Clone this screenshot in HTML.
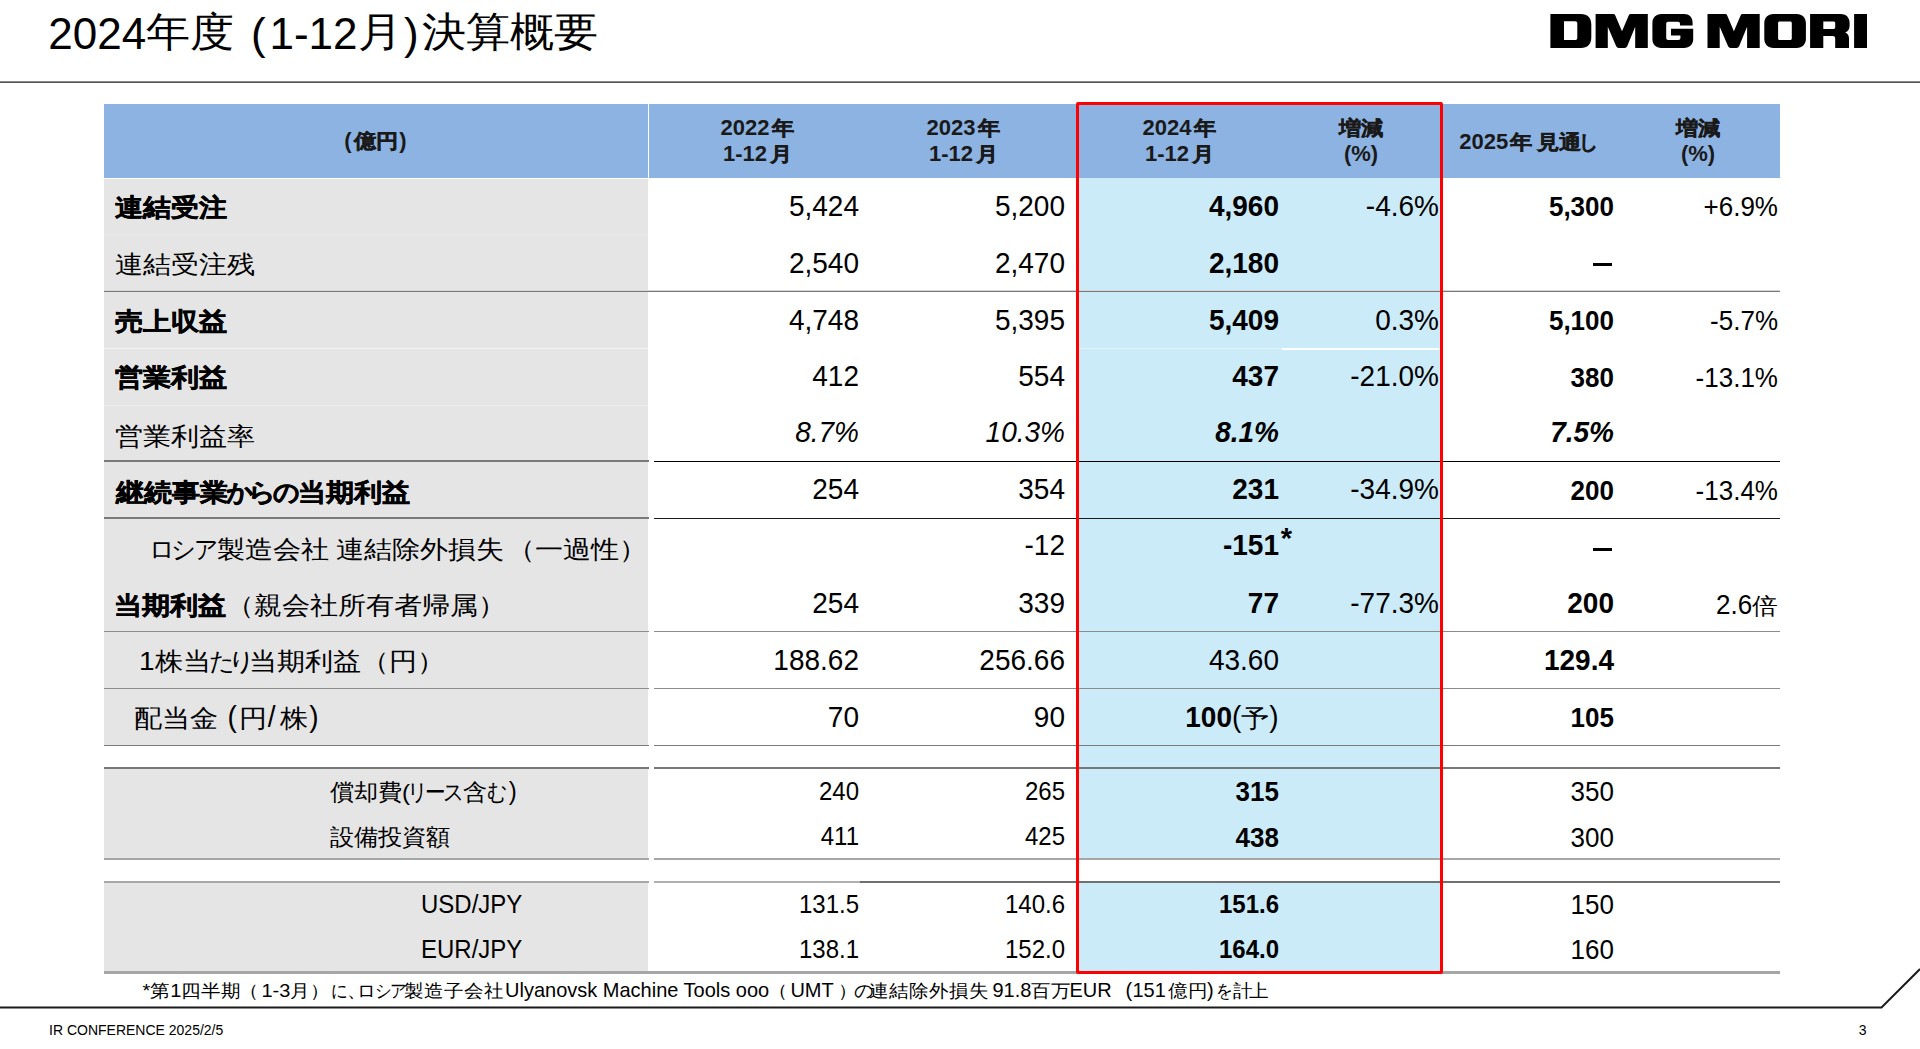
<!DOCTYPE html><html lang="ja"><head><meta charset="utf-8"><style>
html,body{margin:0;padding:0;background:#fff}
body{width:1920px;height:1049px;position:relative;overflow:hidden;font-family:"Liberation Sans", sans-serif;color:#000}
.abs{position:absolute}
.t{position:absolute;white-space:nowrap;line-height:1}
.b{font-weight:bold}
.h{font-weight:bold;color:#1a1a1a}
.k.b,.k.h,.k b{-webkit-text-stroke:0.5px currentColor}

</style></head><body>
<div class="t " style="left:48.30px;top:11.95px;font-size:44.00px;">2024</div>
<div class="t  k" style="left:146.20px;top:9.45px;font-size:44.00px;transform:scale(1.000,0.930);transform-origin:0 42.97px;">年度</div>
<div class="t " style="left:251.00px;top:11.95px;font-size:44.00px;">(</div>
<div class="t " style="left:269.50px;top:11.95px;font-size:44.00px;">1-12</div>
<div class="t  k" style="left:357.60px;top:9.45px;font-size:44.00px;transform:scale(1.000,0.930);transform-origin:0 42.97px;">月</div>
<div class="t " style="left:404.10px;top:11.95px;font-size:44.00px;">)</div>
<div class="t  k" style="left:422.00px;top:9.45px;font-size:44.00px;transform:scale(1.000,0.930);transform-origin:0 42.97px;">決算概要</div>
<svg class="abs" style="left:1550px;top:14px" width="320" height="36" viewBox="0 0 320 36">
<path fill="#000" fill-rule="evenodd" d="M0.4,0 H31 C37.5,0 41.3,4 41.3,10.5 V23.5 C41.3,30 37.5,34 31,34 H0.4 Z M14,7.2 H25 C26.5,7.2 27.3,8 27.3,9.5 V23.8 C27.3,25.3 26.5,26.1 25,26.1 H14 Z"/>
<path id="m1" fill="#000" d="M45.6,0 H63.3 Q64.7,0 65.3,1.4 L72,17.2 L78.7,1.4 Q79.3,0 80.7,0 H97.8 V34 H85.2 V12.8 L77.2,32.3 Q76.5,34 74.6,34 H68.8 Q66.9,34 66.2,32.3 L57.8,12.8 V34 H45.6 Z"/>
<path fill="#000" d="M111.4,0 H134 C139.2,0 142.6,3.2 142.6,8.4 V11.4 H130 V9.8 C130,8.5 129.3,7.8 128,7.8 H118.2 C117,7.8 116.2,8.6 116.2,9.8 V24 C116.2,25.2 117,26 118.2,26 H128.4 C129.6,26 130.4,25.2 130.4,24 V21.6 H121 V14.8 H143.2 V25 C143.2,30.5 139.5,34 134,34 H111.4 C106,34 102.4,30.5 102.4,25 V9 C102.4,3.5 106,0 111.4,0 Z"/>
<use href="#m1" x="111.9"/>
<path fill="#000" fill-rule="evenodd" d="M223.5,0 H246.7 C252.2,0 255.9,3.7 255.9,9.2 V24.8 C255.9,30.3 252.2,34 246.7,34 H223.5 C218,34 214.3,30.3 214.3,24.8 V9.2 C214.3,3.7 218,0 223.5,0 Z M229.6,7.4 H240.3 C241.2,7.4 241.8,8 241.8,8.9 V24.4 C241.8,25.3 241.2,25.9 240.3,25.9 H229.6 C228.7,25.9 228.1,25.3 228.1,24.4 V8.9 C228.1,8 228.7,7.4 229.6,7.4 Z"/>
<path fill="#000" fill-rule="evenodd" d="M260.1,0 H290.4 C296,0 299.6,3.4 299.6,8.8 V11.8 C299.6,15.2 298,17.4 295.2,18.6 C297.8,19.6 299,21.6 299,24.6 V34 H285.2 V24.6 C285.2,22.8 284.4,22 282.6,22 H273.3 V34 H260.1 Z M273.3,7.4 H283.6 C284.6,7.4 285.2,8 285.2,9.1 V13.2 C285.2,14.3 284.6,14.9 283.6,14.9 H273.3 Z"/>
<path fill="#000" d="M304.1,0 H317 V34 H304.1 Z"/>
</svg>
<div class="abs" style="left:0;top:81px;width:1920px;height:1px;background:#8a8a8a"></div>
<div class="abs" style="left:0;top:82px;width:1920px;height:1px;background:#555"></div>
<div class="abs" style="left:104px;top:104px;width:1676px;height:74px;background:#8DB3E2"></div>
<div class="abs" style="left:648px;top:104px;width:1px;height:74px;background:#fff"></div>
<div class="abs" style="left:104px;top:179px;width:544px;height:566px;background:#E5E5E5"></div>
<div class="abs" style="left:104px;top:769px;width:544px;height:89px;background:#E5E5E5"></div>
<div class="abs" style="left:104px;top:883px;width:544px;height:88px;background:#E5E5E5"></div>
<div class="abs" style="left:1079px;top:178px;width:361px;height:681px;background:#CCEBF8"></div>
<div class="abs" style="left:1079px;top:882px;width:361px;height:89px;background:#CCEBF8"></div>
<div class="abs" style="left:104px;top:290px;width:1676px;height:1px;background:#d4d4d4"></div>
<div class="abs" style="left:104px;top:291px;width:1676px;height:1px;background:#7a7a7a"></div>
<div class="abs" style="left:104px;top:460px;width:545px;height:2px;background:#7a7a7a"></div>
<div class="abs" style="left:654px;top:461px;width:1126px;height:1px;background:#000"></div>
<div class="abs" style="left:104px;top:517px;width:545px;height:2px;background:#7a7a7a"></div>
<div class="abs" style="left:654px;top:518px;width:1126px;height:1px;background:#1a1a1a"></div>
<div class="abs" style="left:104px;top:631px;width:545px;height:1px;background:#8c8c8c"></div>
<div class="abs" style="left:654px;top:631px;width:1126px;height:1px;background:#8c8c8c"></div>
<div class="abs" style="left:104px;top:688px;width:545px;height:1px;background:#8c8c8c"></div>
<div class="abs" style="left:654px;top:688px;width:1126px;height:1px;background:#8c8c8c"></div>
<div class="abs" style="left:104px;top:745px;width:545px;height:1px;background:#7a7a7a"></div>
<div class="abs" style="left:654px;top:745px;width:1126px;height:1px;background:#7a7a7a"></div>
<div class="abs" style="left:104px;top:767px;width:545px;height:2px;background:#777"></div>
<div class="abs" style="left:654px;top:767px;width:1126px;height:2px;background:#777"></div>
<div class="abs" style="left:104px;top:858px;width:545px;height:2px;background:#a6a6a6"></div>
<div class="abs" style="left:654px;top:858px;width:1126px;height:2px;background:#a6a6a6"></div>
<div class="abs" style="left:104px;top:881px;width:545px;height:2px;background:#a8a8a8"></div>
<div class="abs" style="left:654px;top:881px;width:206px;height:2px;background:#b0b0b0"></div>
<div class="abs" style="left:860px;top:881px;width:920px;height:2px;background:#707070"></div>
<div class="abs" style="left:104px;top:971px;width:1676px;height:3px;background:#a6a6a6"></div>
<div class="abs" style="left:1282px;top:348px;width:158px;height:2px;background:#fff"></div>
<div class="abs" style="left:1079px;top:348px;width:203px;height:1px;background:#e2f3fb"></div>
<div class="abs" style="left:104px;top:348px;width:544px;height:1px;background:#f3f3f3"></div>
<div class="abs" style="left:104px;top:405px;width:544px;height:1px;background:#ececec"></div>
<div class="abs" style="left:104px;top:234px;width:544px;height:1px;background:#eaeaea"></div>
<div class="abs" style="left:1076px;top:102px;width:361px;height:866px;border:3px solid #FF0000;border-radius:2px"></div>
<div class="t h" style="left:344.30px;top:129.98px;font-size:22.00px;transform:scale(1.000,1.040);transform-origin:0 18.62px;">(</div>
<div class="t h k" style="left:353.50px;top:129.98px;font-size:22.00px;transform:scale(1.000,0.900);transform-origin:0 21.48px;">億円</div>
<div class="t h" style="left:399.30px;top:129.98px;font-size:22.00px;transform:scale(1.000,1.040);transform-origin:0 18.62px;">)</div>
<div class="t h" style="left:720.54px;top:117.08px;font-size:22.00px;transform:scale(1.000,1.040);transform-origin:0 18.62px;">2022</div>
<div class="t h k" style="left:771.96px;top:117.08px;font-size:22.00px;transform:scale(1.000,0.900);transform-origin:0 21.48px;">年</div>
<div class="t h" style="left:722.99px;top:143.28px;font-size:22.00px;transform:scale(1.000,1.040);transform-origin:0 18.62px;">1-12</div>
<div class="t h k" style="left:769.51px;top:143.28px;font-size:22.00px;transform:scale(1.000,0.900);transform-origin:0 21.48px;">月</div>
<div class="t h" style="left:926.54px;top:117.08px;font-size:22.00px;transform:scale(1.000,1.040);transform-origin:0 18.62px;">2023</div>
<div class="t h k" style="left:977.96px;top:117.08px;font-size:22.00px;transform:scale(1.000,0.900);transform-origin:0 21.48px;">年</div>
<div class="t h" style="left:928.99px;top:143.28px;font-size:22.00px;transform:scale(1.000,1.040);transform-origin:0 18.62px;">1-12</div>
<div class="t h k" style="left:975.51px;top:143.28px;font-size:22.00px;transform:scale(1.000,0.900);transform-origin:0 21.48px;">月</div>
<div class="t h" style="left:1142.54px;top:117.08px;font-size:22.00px;transform:scale(1.000,1.040);transform-origin:0 18.62px;">2024</div>
<div class="t h k" style="left:1193.96px;top:117.08px;font-size:22.00px;transform:scale(1.000,0.900);transform-origin:0 21.48px;">年</div>
<div class="t h" style="left:1144.99px;top:143.28px;font-size:22.00px;transform:scale(1.000,1.040);transform-origin:0 18.62px;">1-12</div>
<div class="t h k" style="left:1191.51px;top:143.28px;font-size:22.00px;transform:scale(1.000,0.900);transform-origin:0 21.48px;">月</div>
<div class="t h k" style="left:1161.00px;width:400px;text-align:center;top:117.08px;font-size:22.00px;transform:scale(1.000,0.900);transform-origin:50% 21.48px;">増減</div>
<div class="t h" style="left:1161.00px;width:400px;text-align:center;top:143.28px;font-size:22.00px;transform:scale(1.000,1.040);transform-origin:50% 18.62px;">(%)</div>
<div class="t h k" style="left:1498.00px;width:400px;text-align:center;top:117.08px;font-size:22.00px;transform:scale(1.000,0.900);transform-origin:50% 21.48px;">増減</div>
<div class="t h" style="left:1498.00px;width:400px;text-align:center;top:143.28px;font-size:22.00px;transform:scale(1.000,1.040);transform-origin:50% 18.62px;">(%)</div>
<div class="t h" style="left:1459.30px;top:130.78px;font-size:22.00px;transform:scale(1.000,1.040);transform-origin:0 18.62px;">2025</div>
<div class="t h k" style="left:1510.00px;top:130.78px;font-size:22.00px;transform:scale(1.000,0.900);transform-origin:0 21.48px;">年</div>
<div class="t h k" style="left:1537.00px;top:130.78px;font-size:22.00px;transform:scale(1.000,0.900);transform-origin:0 21.48px;">見通</div>
<div class="t h k" style="left:1389.20px;width:400px;text-align:center;top:130.78px;font-size:22.00px;transform:scale(0.850,0.900);transform-origin:50% 21.48px;">し</div>
<div class="t b k" style="left:115.00px;top:192.70px;font-size:28.00px;transform:scale(1.000,0.890);transform-origin:0 27.34px;">連結受注</div>
<div class="t " style="left:459.00px;width:400px;text-align:right;top:192.70px;font-size:28.00px;transform:scale(1.000,1.040);transform-origin:100% 23.70px;">5,424</div>
<div class="t " style="left:665.00px;width:400px;text-align:right;top:192.70px;font-size:28.00px;transform:scale(1.000,1.040);transform-origin:100% 23.70px;">5,200</div>
<div class="t " style="left:879.00px;width:400px;text-align:right;top:192.70px;font-size:28.00px;transform:scale(1.000,1.040);transform-origin:100% 23.70px;"><b>4,960</b></div>
<div class="t " style="left:1039.00px;width:400px;text-align:right;top:192.70px;font-size:28.00px;transform:scale(1.000,1.040);transform-origin:100% 23.70px;">-4.6%</div>
<div class="t " style="left:1214.00px;width:400px;text-align:right;top:194.39px;font-size:26.00px;transform:scale(1.000,1.040);transform-origin:100% 22.01px;"><b>5,300</b></div>
<div class="t " style="left:1378.00px;width:400px;text-align:right;top:194.39px;font-size:26.00px;transform:scale(1.000,1.040);transform-origin:100% 22.01px;">+6.9%</div>
<div class="t  k" style="left:115.00px;top:249.60px;font-size:28.00px;transform:scale(1.000,0.890);transform-origin:0 27.34px;">連結受注残</div>
<div class="t " style="left:459.00px;width:400px;text-align:right;top:249.60px;font-size:28.00px;transform:scale(1.000,1.040);transform-origin:100% 23.70px;">2,540</div>
<div class="t " style="left:665.00px;width:400px;text-align:right;top:249.60px;font-size:28.00px;transform:scale(1.000,1.040);transform-origin:100% 23.70px;">2,470</div>
<div class="t " style="left:879.00px;width:400px;text-align:right;top:249.60px;font-size:28.00px;transform:scale(1.000,1.040);transform-origin:100% 23.70px;"><b>2,180</b></div>
<div class="t b k" style="left:115.00px;top:306.50px;font-size:28.00px;transform:scale(1.000,0.890);transform-origin:0 27.34px;">売上収益</div>
<div class="t " style="left:459.00px;width:400px;text-align:right;top:306.50px;font-size:28.00px;transform:scale(1.000,1.040);transform-origin:100% 23.70px;">4,748</div>
<div class="t " style="left:665.00px;width:400px;text-align:right;top:306.50px;font-size:28.00px;transform:scale(1.000,1.040);transform-origin:100% 23.70px;">5,395</div>
<div class="t " style="left:879.00px;width:400px;text-align:right;top:306.50px;font-size:28.00px;transform:scale(1.000,1.040);transform-origin:100% 23.70px;"><b>5,409</b></div>
<div class="t " style="left:1039.00px;width:400px;text-align:right;top:306.50px;font-size:28.00px;transform:scale(1.000,1.040);transform-origin:100% 23.70px;">0.3%</div>
<div class="t " style="left:1214.00px;width:400px;text-align:right;top:308.19px;font-size:26.00px;transform:scale(1.000,1.040);transform-origin:100% 22.01px;"><b>5,100</b></div>
<div class="t " style="left:1378.00px;width:400px;text-align:right;top:308.19px;font-size:26.00px;transform:scale(1.000,1.040);transform-origin:100% 22.01px;">-5.7%</div>
<div class="t b k" style="left:115.00px;top:363.30px;font-size:28.00px;transform:scale(1.000,0.890);transform-origin:0 27.34px;">営業利益</div>
<div class="t " style="left:459.00px;width:400px;text-align:right;top:363.30px;font-size:28.00px;transform:scale(1.000,1.040);transform-origin:100% 23.70px;">412</div>
<div class="t " style="left:665.00px;width:400px;text-align:right;top:363.30px;font-size:28.00px;transform:scale(1.000,1.040);transform-origin:100% 23.70px;">554</div>
<div class="t " style="left:879.00px;width:400px;text-align:right;top:363.30px;font-size:28.00px;transform:scale(1.000,1.040);transform-origin:100% 23.70px;"><b>437</b></div>
<div class="t " style="left:1039.00px;width:400px;text-align:right;top:363.30px;font-size:28.00px;transform:scale(1.000,1.040);transform-origin:100% 23.70px;">-21.0%</div>
<div class="t " style="left:1214.00px;width:400px;text-align:right;top:364.99px;font-size:26.00px;transform:scale(1.000,1.040);transform-origin:100% 22.01px;"><b>380</b></div>
<div class="t " style="left:1378.00px;width:400px;text-align:right;top:364.99px;font-size:26.00px;transform:scale(1.000,1.040);transform-origin:100% 22.01px;">-13.1%</div>
<div class="t  k" style="left:115.00px;top:421.50px;font-size:28.00px;transform:scale(1.000,0.890);transform-origin:0 27.34px;">営業利益率</div>
<div class="t " style="left:459.00px;width:400px;text-align:right;top:419.00px;font-size:28.00px;transform:scale(1.000,1.040);transform-origin:100% 23.70px;"><i>8.7%</i></div>
<div class="t " style="left:665.00px;width:400px;text-align:right;top:419.00px;font-size:28.00px;transform:scale(1.000,1.040);transform-origin:100% 23.70px;"><i>10.3%</i></div>
<div class="t " style="left:879.00px;width:400px;text-align:right;top:419.00px;font-size:28.00px;transform:scale(1.000,1.040);transform-origin:100% 23.70px;"><b><i>8.1%</i></b></div>
<div class="t " style="left:1214.00px;width:400px;text-align:right;top:419.00px;font-size:28.00px;transform:scale(1.000,1.040);transform-origin:100% 23.70px;"><b><i>7.5%</i></b></div>
<div class="t b k" style="left:115.50px;top:478.00px;font-size:28.00px;transform:scale(1.000,0.890);transform-origin:0 27.34px;">継続事業</div>
<div class="t b k" style="left:39.70px;width:400px;text-align:center;top:478.00px;font-size:28.00px;transform:scale(0.950,0.890);transform-origin:50% 27.34px;">か</div>
<div class="t b k" style="left:62.20px;width:400px;text-align:center;top:478.00px;font-size:28.00px;transform:scale(0.970,0.890);transform-origin:50% 27.34px;">ら</div>
<div class="t b k" style="left:85.60px;width:400px;text-align:center;top:478.00px;font-size:28.00px;transform:scale(0.930,0.890);transform-origin:50% 27.34px;">の</div>
<div class="t b k" style="left:298.00px;top:478.00px;font-size:28.00px;transform:scale(1.000,0.890);transform-origin:0 27.34px;">当期利益</div>
<div class="t " style="left:459.00px;width:400px;text-align:right;top:476.20px;font-size:28.00px;transform:scale(1.000,1.040);transform-origin:100% 23.70px;">254</div>
<div class="t " style="left:665.00px;width:400px;text-align:right;top:476.20px;font-size:28.00px;transform:scale(1.000,1.040);transform-origin:100% 23.70px;">354</div>
<div class="t " style="left:879.00px;width:400px;text-align:right;top:476.20px;font-size:28.00px;transform:scale(1.000,1.040);transform-origin:100% 23.70px;"><b>231</b></div>
<div class="t " style="left:1039.00px;width:400px;text-align:right;top:476.20px;font-size:28.00px;transform:scale(1.000,1.040);transform-origin:100% 23.70px;">-34.9%</div>
<div class="t " style="left:1214.00px;width:400px;text-align:right;top:477.89px;font-size:26.00px;transform:scale(1.000,1.040);transform-origin:100% 22.01px;"><b>200</b></div>
<div class="t " style="left:1378.00px;width:400px;text-align:right;top:477.89px;font-size:26.00px;transform:scale(1.000,1.040);transform-origin:100% 22.01px;">-13.4%</div>
<div class="t  k" style="left:-38.20px;width:400px;text-align:center;top:535.30px;font-size:28.00px;transform:scale(0.900,0.890);transform-origin:50% 27.34px;">ロ</div>
<div class="t  k" style="left:-16.00px;width:400px;text-align:center;top:535.30px;font-size:28.00px;transform:scale(0.870,0.890);transform-origin:50% 27.34px;">シ</div>
<div class="t  k" style="left:6.40px;width:400px;text-align:center;top:535.30px;font-size:28.00px;transform:scale(0.850,0.890);transform-origin:50% 27.34px;">ア</div>
<div class="t  k" style="left:217.00px;top:535.30px;font-size:28.00px;transform:scale(1.000,0.890);transform-origin:0 27.34px;">製造会社</div>
<div class="t  k" style="left:336.10px;top:535.30px;font-size:28.00px;transform:scale(1.000,0.890);transform-origin:0 27.34px;">連結除外損失</div>
<div class="t  k" style="left:506.70px;top:535.30px;font-size:28.00px;transform:scale(1.000,0.890);transform-origin:0 27.34px;">（一過性）</div>
<div class="t " style="left:665.00px;width:400px;text-align:right;top:532.30px;font-size:28.00px;transform:scale(1.000,1.040);transform-origin:100% 23.70px;">-12</div>
<div class="t " style="left:879.00px;width:400px;text-align:right;top:532.30px;font-size:28.00px;transform:scale(1.000,1.040);transform-origin:100% 23.70px;"><b>-151</b></div>
<div class="t  k" style="left:114.00px;top:591.10px;font-size:28.00px;transform:scale(1.000,0.890);transform-origin:0 27.34px;"><b>当期利益</b>（親会社所有者帰属）</div>
<div class="t " style="left:459.00px;width:400px;text-align:right;top:590.30px;font-size:28.00px;transform:scale(1.000,1.040);transform-origin:100% 23.70px;">254</div>
<div class="t " style="left:665.00px;width:400px;text-align:right;top:590.30px;font-size:28.00px;transform:scale(1.000,1.040);transform-origin:100% 23.70px;">339</div>
<div class="t " style="left:879.00px;width:400px;text-align:right;top:590.30px;font-size:28.00px;transform:scale(1.000,1.040);transform-origin:100% 23.70px;"><b>77</b></div>
<div class="t " style="left:1039.00px;width:400px;text-align:right;top:590.30px;font-size:28.00px;transform:scale(1.000,1.040);transform-origin:100% 23.70px;">-77.3%</div>
<div class="t " style="left:1214.00px;width:400px;text-align:right;top:590.30px;font-size:28.00px;transform:scale(1.000,1.040);transform-origin:100% 23.70px;"><b>200</b></div>
<div class="t " style="left:1716.00px;top:591.99px;font-size:26.00px;transform:scale(1.000,1.040);transform-origin:0 22.01px;">2.6</div>
<div class="t  k" style="left:1378.00px;width:400px;text-align:right;top:591.99px;font-size:26.00px;transform:scale(1.000,0.890);transform-origin:100% 25.39px;">倍</div>
<div class="t  k" style="left:139.00px;top:647.00px;font-size:28.00px;transform:scale(1.000,0.890);transform-origin:0 27.34px;">1株当</div>
<div class="t  k" style="left:21.70px;width:400px;text-align:center;top:647.00px;font-size:28.00px;transform:scale(0.900,0.890);transform-origin:50% 27.34px;">た</div>
<div class="t  k" style="left:42.10px;width:400px;text-align:center;top:647.00px;font-size:28.00px;transform:scale(0.950,0.890);transform-origin:50% 27.34px;">り</div>
<div class="t  k" style="left:249.10px;top:647.00px;font-size:28.00px;transform:scale(1.000,0.890);transform-origin:0 27.34px;">当期利益（円）</div>
<div class="t " style="left:459.00px;width:400px;text-align:right;top:647.00px;font-size:28.00px;transform:scale(1.000,1.040);transform-origin:100% 23.70px;">188.62</div>
<div class="t " style="left:665.00px;width:400px;text-align:right;top:647.00px;font-size:28.00px;transform:scale(1.000,1.040);transform-origin:100% 23.70px;">256.66</div>
<div class="t " style="left:879.00px;width:400px;text-align:right;top:647.00px;font-size:28.00px;transform:scale(1.000,1.040);transform-origin:100% 23.70px;">43.60</div>
<div class="t " style="left:1214.00px;width:400px;text-align:right;top:647.00px;font-size:28.00px;transform:scale(1.000,1.040);transform-origin:100% 23.70px;"><b>129.4</b></div>
<div class="t  k" style="left:134.00px;top:703.60px;font-size:28.00px;transform:scale(1.000,0.890);transform-origin:0 27.34px;">配当金</div>
<div class="t " style="left:227.50px;top:703.60px;font-size:28.00px;transform:scale(1.000,1.040);transform-origin:0 23.70px;">(</div>
<div class="t  k" style="left:53.30px;width:400px;text-align:center;top:703.60px;font-size:28.00px;transform:scale(1.000,0.890);transform-origin:50% 27.34px;">円</div>
<div class="t " style="left:71.60px;width:400px;text-align:center;top:703.60px;font-size:28.00px;transform:scale(1.000,1.040);transform-origin:50% 23.70px;">/</div>
<div class="t  k" style="left:94.10px;width:400px;text-align:center;top:703.60px;font-size:28.00px;transform:scale(1.000,0.890);transform-origin:50% 27.34px;">株</div>
<div class="t " style="left:309.30px;top:703.60px;font-size:28.00px;transform:scale(1.000,1.040);transform-origin:0 23.70px;">)</div>
<div class="t " style="left:459.00px;width:400px;text-align:right;top:703.60px;font-size:28.00px;transform:scale(1.000,1.040);transform-origin:100% 23.70px;">70</div>
<div class="t " style="left:665.00px;width:400px;text-align:right;top:703.60px;font-size:28.00px;transform:scale(1.000,1.040);transform-origin:100% 23.70px;">90</div>
<div class="t " style="left:1214.00px;width:400px;text-align:right;top:705.29px;font-size:26.00px;transform:scale(1.000,1.040);transform-origin:100% 22.01px;"><b>105</b></div>
<div class="t " style="left:832.00px;width:400px;text-align:right;top:703.60px;font-size:28.00px;transform:scale(1.000,1.040);transform-origin:100% 23.70px;"><b>100</b></div>
<div class="t " style="left:1232.00px;top:703.60px;font-size:28.00px;transform:scale(1.000,1.040);transform-origin:0 23.70px;">(</div>
<div class="t  k" style="left:1241.30px;top:703.60px;font-size:28.00px;transform:scale(1.000,0.890);transform-origin:0 27.34px;">予</div>
<div class="t " style="left:1269.30px;top:703.60px;font-size:28.00px;transform:scale(1.000,1.040);transform-origin:0 23.70px;">)</div>
<div class="abs" style="left:1593px;top:263px;width:19px;height:3px;background:#000"></div>
<div class="abs" style="left:1593px;top:548px;width:19px;height:3px;background:#000"></div>
<div class="t b" style="left:1280.70px;top:523.85px;font-size:29.00px;">*</div>
<div class="t  k" style="left:330.00px;top:780.18px;font-size:24.00px;transform:scale(1.000,0.950);transform-origin:0 23.44px;">償却費(</div>
<div class="t  k" style="left:218.20px;width:400px;text-align:center;top:780.18px;font-size:24.00px;transform:scale(0.850,0.950);transform-origin:50% 23.44px;">リ</div>
<div class="t  k" style="left:234.70px;width:400px;text-align:center;top:780.18px;font-size:24.00px;transform:scale(0.850,0.950);transform-origin:50% 23.44px;">ー</div>
<div class="t  k" style="left:254.00px;width:400px;text-align:center;top:780.18px;font-size:24.00px;transform:scale(0.850,0.950);transform-origin:50% 23.44px;">ス</div>
<div class="t  k" style="left:275.00px;width:400px;text-align:center;top:780.18px;font-size:24.00px;transform:scale(1.000,0.950);transform-origin:50% 23.44px;">含</div>
<div class="t  k" style="left:296.90px;width:400px;text-align:center;top:780.18px;font-size:24.00px;transform:scale(0.820,0.950);transform-origin:50% 23.44px;">む</div>
<div class="t " style="left:508.80px;top:780.18px;font-size:24.00px;transform:scale(1.000,1.040);transform-origin:0 20.32px;">)</div>
<div class="t " style="left:459.00px;width:400px;text-align:right;top:780.18px;font-size:24.00px;transform:scale(1.000,1.040);transform-origin:100% 20.32px;">240</div>
<div class="t " style="left:665.00px;width:400px;text-align:right;top:780.18px;font-size:24.00px;transform:scale(1.000,1.040);transform-origin:100% 20.32px;">265</div>
<div class="t " style="left:879.00px;width:400px;text-align:right;top:779.19px;font-size:26.00px;transform:scale(1.000,1.040);transform-origin:100% 22.01px;"><b>315</b></div>
<div class="t " style="left:1214.00px;width:400px;text-align:right;top:778.89px;font-size:26.00px;transform:scale(1.000,1.040);transform-origin:100% 22.01px;">350</div>
<div class="t  k" style="left:330.00px;top:825.18px;font-size:24.00px;transform:scale(1.000,0.950);transform-origin:0 23.44px;">設備投資額</div>
<div class="t " style="left:459.00px;width:400px;text-align:right;top:825.18px;font-size:24.00px;transform:scale(1.000,1.040);transform-origin:100% 20.32px;">411</div>
<div class="t " style="left:665.00px;width:400px;text-align:right;top:825.18px;font-size:24.00px;transform:scale(1.000,1.040);transform-origin:100% 20.32px;">425</div>
<div class="t " style="left:879.00px;width:400px;text-align:right;top:824.69px;font-size:26.00px;transform:scale(1.000,1.040);transform-origin:100% 22.01px;"><b>438</b></div>
<div class="t " style="left:1214.00px;width:400px;text-align:right;top:824.69px;font-size:26.00px;transform:scale(1.000,1.040);transform-origin:100% 22.01px;">300</div>
<div class="t " style="left:421.00px;top:892.58px;font-size:24.00px;transform:scale(1.000,1.040);transform-origin:0 20.32px;">USD/JPY</div>
<div class="t " style="left:459.00px;width:400px;text-align:right;top:892.58px;font-size:24.00px;transform:scale(1.000,1.040);transform-origin:100% 20.32px;">131.5</div>
<div class="t " style="left:665.00px;width:400px;text-align:right;top:892.58px;font-size:24.00px;transform:scale(1.000,1.040);transform-origin:100% 20.32px;">140.6</div>
<div class="t " style="left:879.00px;width:400px;text-align:right;top:892.58px;font-size:24.00px;transform:scale(1.000,1.040);transform-origin:100% 20.32px;"><b>151.6</b></div>
<div class="t " style="left:1214.00px;width:400px;text-align:right;top:891.79px;font-size:26.00px;transform:scale(1.000,1.040);transform-origin:100% 22.01px;">150</div>
<div class="t " style="left:421.00px;top:938.08px;font-size:24.00px;transform:scale(1.000,1.040);transform-origin:0 20.32px;">EUR/JPY</div>
<div class="t " style="left:459.00px;width:400px;text-align:right;top:938.08px;font-size:24.00px;transform:scale(1.000,1.040);transform-origin:100% 20.32px;">138.1</div>
<div class="t " style="left:665.00px;width:400px;text-align:right;top:938.08px;font-size:24.00px;transform:scale(1.000,1.040);transform-origin:100% 20.32px;">152.0</div>
<div class="t " style="left:879.00px;width:400px;text-align:right;top:938.08px;font-size:24.00px;transform:scale(1.000,1.040);transform-origin:100% 20.32px;"><b>164.0</b></div>
<div class="t " style="left:1214.00px;width:400px;text-align:right;top:937.09px;font-size:26.00px;transform:scale(1.000,1.040);transform-origin:100% 22.01px;">160</div>
<div class="t  k" style="left:142.50px;top:979.67px;font-size:20.00px;transform:scale(1.000,0.920);transform-origin:0 19.53px;">*第1四半期</div>
<div class="t  k" style="left:238.70px;top:979.67px;font-size:20.00px;transform:scale(1.000,0.920);transform-origin:0 19.53px;">（</div>
<div class="t  k" style="left:261.40px;top:979.67px;font-size:20.00px;transform:scale(1.000,0.920);transform-origin:0 19.53px;">1-3月</div>
<div class="t  k" style="left:309.90px;top:979.67px;font-size:20.00px;transform:scale(1.000,0.920);transform-origin:0 19.53px;">）</div>
<div class="t  k" style="left:138.50px;width:400px;text-align:center;top:979.67px;font-size:20.00px;transform:scale(0.850,0.920);transform-origin:50% 19.53px;">に</div>
<div class="t  k" style="left:346.50px;top:979.67px;font-size:20.00px;transform:scale(1.000,0.920);transform-origin:0 19.53px;">、</div>
<div class="t  k" style="left:166.00px;width:400px;text-align:center;top:979.67px;font-size:20.00px;transform:scale(0.950,0.920);transform-origin:50% 19.53px;">ロ</div>
<div class="t  k" style="left:183.00px;width:400px;text-align:center;top:979.67px;font-size:20.00px;transform:scale(0.850,0.920);transform-origin:50% 19.53px;">シ</div>
<div class="t  k" style="left:197.50px;width:400px;text-align:center;top:979.67px;font-size:20.00px;transform:scale(0.850,0.920);transform-origin:50% 19.53px;">ア</div>
<div class="t  k" style="left:403.50px;top:979.67px;font-size:20.00px;transform:scale(1.000,0.920);transform-origin:0 19.53px;">製造子会社</div>
<div class="t " style="left:505.00px;top:979.67px;font-size:20.00px;transform:scale(1.000,1.040);transform-origin:0 16.93px;">Ulyanovsk Machine Tools ooo</div>
<div class="t  k" style="left:768.20px;top:979.67px;font-size:20.00px;transform:scale(1.000,0.920);transform-origin:0 19.53px;">（</div>
<div class="t " style="left:790.40px;top:979.67px;font-size:20.00px;transform:scale(1.000,1.040);transform-origin:0 16.93px;">UMT</div>
<div class="t  k" style="left:838.40px;top:979.67px;font-size:20.00px;transform:scale(1.000,0.920);transform-origin:0 19.53px;">）</div>
<div class="t  k" style="left:853.50px;top:979.67px;font-size:20.00px;transform:scale(1.000,0.920);transform-origin:0 19.53px;">の</div>
<div class="t  k" style="left:869.00px;top:979.67px;font-size:20.00px;transform:scale(1.000,0.920);transform-origin:0 19.53px;">連結除外損失</div>
<div class="t " style="left:992.50px;top:979.67px;font-size:20.00px;transform:scale(1.000,1.040);transform-origin:0 16.93px;">91.8</div>
<div class="t  k" style="left:1030.50px;top:979.67px;font-size:20.00px;transform:scale(1.000,0.920);transform-origin:0 19.53px;">百万</div>
<div class="t " style="left:1069.50px;top:979.67px;font-size:20.00px;transform:scale(1.000,1.040);transform-origin:0 16.93px;">EUR</div>
<div class="t " style="left:1125.50px;top:979.67px;font-size:20.00px;transform:scale(1.000,1.040);transform-origin:0 16.93px;">(</div>
<div class="t " style="left:1132.40px;top:979.67px;font-size:20.00px;transform:scale(1.000,1.040);transform-origin:0 16.93px;">151</div>
<div class="t  k" style="left:1167.50px;top:979.67px;font-size:20.00px;transform:scale(1.000,0.920);transform-origin:0 19.53px;">億円</div>
<div class="t " style="left:1207.00px;top:979.67px;font-size:20.00px;transform:scale(1.000,1.040);transform-origin:0 16.93px;">)</div>
<div class="t  k" style="left:1023.80px;width:400px;text-align:center;top:979.67px;font-size:20.00px;transform:scale(0.850,0.920);transform-origin:50% 19.53px;">を</div>
<div class="t  k" style="left:1042.60px;width:400px;text-align:center;top:979.67px;font-size:20.00px;transform:scale(1.000,0.920);transform-origin:50% 19.53px;">計</div>
<div class="t  k" style="left:1059.30px;width:400px;text-align:center;top:979.67px;font-size:20.00px;transform:scale(1.000,0.920);transform-origin:50% 19.53px;">上</div>
<svg class="abs" style="left:0;top:960px" width="1920" height="60"><path d="M0,47.5 H1881.5 L1920,9" fill="none" stroke="#1a1a1a" stroke-width="2"/></svg>
<div class="t " style="left:49.00px;top:1022.95px;font-size:14.00px;transform:scale(1.000,1.040);transform-origin:0 11.85px;">IR CONFERENCE 2025/2/5</div>
<div class="t " style="left:1466.50px;width:400px;text-align:right;top:1022.95px;font-size:14.00px;transform:scale(1.000,1.040);transform-origin:100% 11.85px;">3</div>
</body></html>
